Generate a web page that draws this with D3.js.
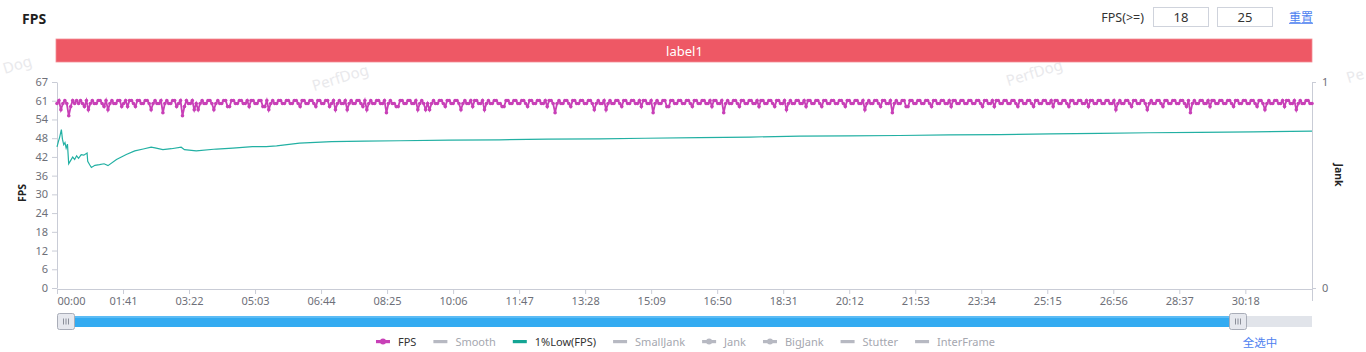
<!DOCTYPE html>
<html>
<head>
<meta charset="utf-8">
<script src="https://cdn.jsdelivr.net/npm/d3@7"></script>
<style>
  body { margin: 0; background: #fff; font-family: "Noto Sans", "Noto Sans CJK SC", sans-serif; }
  svg { display: block; }
</style>
</head>
<body>
<div id="container"></div>
<script>
/* DATA */
// FPS, one sample every 3 seconds from 00:00 (one row = 2 minutes)
const fpsStep = 3;
const fpsValues = [
  60,61,58,60,61,60,56,59,61,60,61,60,61,60,59,61,58,60,61,60,60,61,61,60,59,61,58,60,61,60,60,61,61,59,60,61,59,61,61,60,
  59,61,61,60,60,61,61,60,58,60,61,60,60,61,57,60,61,60,60,61,61,59,60,61,56,59,61,60,60,61,58,60,58,60,61,60,60,61,61,60,
  58,60,61,60,60,61,61,59,59,61,61,60,60,61,61,60,60,61,59,61,61,60,60,61,61,59,59,61,58,60,61,60,60,61,61,60,60,61,61,60,
  60,61,61,60,59,61,61,60,60,61,61,60,59,61,61,60,60,61,61,59,60,61,58,60,61,60,60,61,58,60,61,60,60,61,61,60,59,61,58,60,
  61,60,60,61,61,60,60,61,57,60,61,60,60,59,59,61,61,60,60,61,61,60,60,61,58,60,61,60,58,60,58,60,61,60,60,61,61,60,59,61,
  61,60,60,61,61,60,58,60,61,60,60,61,59,61,61,60,60,61,58,60,61,60,60,61,61,60,60,59,59,61,61,60,60,61,61,60,60,61,61,60,
  59,61,61,60,60,61,61,60,60,61,59,61,61,60,57,60,61,60,60,61,61,60,59,61,61,60,60,61,61,60,60,61,61,60,58,60,61,60,60,61,
  58,60,61,60,60,61,61,60,59,61,61,60,60,61,61,60,60,61,59,61,61,60,60,61,57,60,61,60,60,61,61,59,59,61,61,60,60,61,61,60,
  60,61,61,60,59,61,61,60,60,61,61,60,60,61,59,61,61,60,60,61,57,60,61,60,60,61,61,60,59,61,61,60,60,61,61,60,60,61,59,61,
  61,60,60,61,61,60,59,61,61,60,60,61,58,60,61,60,60,61,61,60,60,61,59,61,61,60,60,61,61,60,59,61,61,60,60,61,61,60,60,61,
  61,60,59,61,61,60,60,61,61,60,60,61,58,60,61,60,60,61,61,60,59,61,61,60,60,61,57,60,61,60,60,61,61,59,59,61,61,60,60,61,
  61,60,60,61,61,60,59,61,61,60,60,61,61,60,60,61,59,61,61,60,60,61,61,60,60,61,61,60,60,61,61,60,59,61,61,60,60,61,59,61,
  61,60,60,61,61,60,60,61,61,60,59,61,61,60,60,61,61,60,59,61,61,60,60,61,61,60,60,61,59,61,61,60,60,61,61,60,59,61,61,60,
  60,61,61,60,60,61,59,61,61,60,60,61,61,60,60,61,61,60,60,61,58,60,61,60,60,61,61,60,59,61,61,60,60,61,61,60,58,60,61,60,
  60,61,61,60,59,61,61,60,60,61,61,60,60,61,61,60,59,61,57,60,61,60,60,61,61,60,60,61,59,61,61,60,60,61,61,60,60,61,61,60,
  59,61,61,60,60,61,61,60,60,61,61,60,59,61,61,60,58,60,61,60,60,61,61,60,60,61,59,61,61,60,60,61,58,60,61,60,60,61,61,60,
  60
];

// 1%Low(FPS): time in seconds, value
const lowTimes = [
  0, 2, 4, 6.7, 8.3, 10.3, 12.2, 14, 16, 17.9, 21, 24, 27, 30, 33, 37, 41, 46, 47, 50,
  52.6, 58, 65, 72, 78, 91, 106, 119, 132, 144, 150, 162, 175, 190, 195, 213, 244, 269, 299, 320,
  336, 371, 420, 470, 524, 600, 677, 750, 830, 900, 983, 1060, 1136, 1210, 1289, 1365, 1442, 1520, 1595, 1670,
  1748, 1830, 1920
];
const lowValues = [
  45.9, 47.5, 49, 51.5, 48.4, 46.6, 47.3, 45.5, 46.8, 40.4, 41.5, 42.6, 41.8, 43, 42.2, 43.4, 43.2, 43.9, 41.2, 40.1,
  39.2, 39.9, 40.1, 40.4, 39.8, 41.8, 43.4, 44.6, 45.2, 45.8, 45.6, 45, 45.3, 45.8, 45, 44.6, 45.2, 45.5, 46, 46,
  46.2, 47.1, 47.6, 47.8, 47.9, 48.1, 48.2, 48.4, 48.5, 48.7, 48.9, 49.1, 49.4, 49.5, 49.6, 49.8, 49.9, 50.1, 50.3, 50.5,
  50.6, 50.8, 51
];

const yTickLabels = ["0","6","12","18","24","30","36","42","48","54","61","67"];
const xTickLabels = ["00:00","01:41","03:22","05:03","06:44","08:25","10:06","11:47","13:28","15:09",
  "16:50","18:31","20:12","21:53","23:34","25:15","26:56","28:37","30:18"];
const jankTickLabels = ["0","1"];
const legendNames = ["FPS","Smooth","1%Low(FPS)","SmallJank","Jank","BigJank","Stutter","InterFrame"];
const legendActive = ["FPS","1%Low(FPS)"];
const legendWithDot = ["FPS","Jank","BigJank"];
const thresholds = ["18","25"];

/* CONSTANTS */
const width = 1366, height = 352;
const plot = { left: 57, right: 1312, top: 82, bottom: 288 };
const fpsColor = "#c840b7", lowColor = "#22b0a3", axisColor = "#c9ccd6", labelColor = "#6e7079";
const linkColor = "#4d7ff0", inactive = "#b7b9c2";

const toSec = s => { const [m, ss] = s.split(":").map(Number); return m * 60 + ss; };

/* SCALES */
const xScale = d3.scaleLinear().domain([0, 1920]).range([plot.left, plot.right]);
const yScale = d3.scaleLinear().domain([0, 67]).range([plot.bottom, plot.top]);
const jankScale = d3.scaleLinear().domain([0, 1]).range([plot.bottom, plot.top]);

const svg = d3.select("#container").append("svg")
  .attr("width", width).attr("height", height);

// watermarks (the ones at the edges only show part of the word)
[[17, 64, "Dog"], [340, 77, "PerfDog"], [1034, 72, "PerfDog"], [1355, 75, "Pe"]].forEach(([wx, wy, w]) => {
  svg.append("text")
    .attr("transform", `translate(${wx},${wy}) rotate(-17)`)
    .attr("text-anchor", "middle").attr("dominant-baseline", "central")
    .attr("font-size", 15).attr("fill", "#e9e9ec")
    .text(w);
});

// title
svg.append("text").attr("x", 22).attr("y", 18).attr("dominant-baseline", "central")
  .attr("font-size", 14).attr("font-weight", "bold").attr("fill", "#1f1f1f").text("FPS");

// threshold inputs
svg.append("text").attr("x", 1144).attr("y", 17).attr("text-anchor", "end")
  .attr("dominant-baseline", "central").attr("font-size", 12.5).attr("fill", "#333").text("FPS(>=)");
thresholds.forEach((t, i) => {
  const bx = 1153 + i * 64;
  svg.append("rect").attr("x", bx + 0.5).attr("y", 7.5).attr("width", 55).attr("height", 19)
    .attr("fill", "#fff").attr("stroke", "#cfd3dc");
  svg.append("text").attr("x", bx + 28).attr("y", 17).attr("text-anchor", "middle")
    .attr("dominant-baseline", "central").attr("font-size", 13).attr("fill", "#333").text(t);
});
svg.append("text").attr("x", 1301).attr("y", 16.5).attr("text-anchor", "middle")
  .attr("dominant-baseline", "central").attr("font-size", 12).attr("fill", linkColor)
  .attr("font-family", "Noto Sans CJK SC").text("重置");
svg.append("line").attr("x1", 1289).attr("x2", 1313).attr("y1", 23.5).attr("y2", 23.5)
  .attr("stroke", linkColor).attr("stroke-width", 0.8);

// label bar
svg.append("rect").attr("x", plot.left - 1).attr("y", 39).attr("width", plot.right - plot.left + 1)
  .attr("height", 23).attr("fill", "#ee5865").attr("stroke", "#f38f97").attr("stroke-width", 0.8);
svg.append("text").attr("x", (plot.left + plot.right) / 2).attr("y", 50.5).attr("text-anchor", "middle")
  .attr("dominant-baseline", "central").attr("font-size", 13).attr("fill", "#fff").text("label1");

/* AXES */
const yAxis = d3.axisLeft(yScale)
  .tickValues(yTickLabels.map((d, i) => i * 67 / (yTickLabels.length - 1)))
  .tickFormat((d, i) => yTickLabels[i])
  .tickSize(5).tickSizeOuter(0).tickPadding(4);
const gy = svg.append("g").attr("transform", `translate(${plot.left},0)`).call(yAxis);

const xAxis = d3.axisBottom(xScale)
  .tickValues(xTickLabels.map(toSec))
  .tickFormat((d, i) => xTickLabels[i])
  .tickSize(5).tickSizeOuter(0).tickPadding(3);
const gx = svg.append("g").attr("transform", `translate(0,${plot.bottom + 1})`).call(xAxis);
gx.select(".tick text").attr("text-anchor", "start");

const jAxis = d3.axisRight(jankScale)
  .tickValues(jankTickLabels.map(Number))
  .tickFormat((d, i) => jankTickLabels[i])
  .tickSize(4).tickSizeOuter(0).tickPadding(6);
const gj = svg.append("g").attr("transform", `translate(${plot.right},0)`).call(jAxis);
svg.append("line").attr("x1", plot.right + 0.5).attr("x2", plot.right + 0.5)
  .attr("y1", plot.bottom).attr("y2", plot.bottom + 13).attr("stroke", axisColor);

[gx, gy, gj].forEach(g => {
  g.selectAll("path, line").attr("stroke", axisColor);
  g.selectAll("text").attr("fill", labelColor).attr("font-size", 11)
    .attr("font-family", "Noto Sans, sans-serif");
});

// axis names
svg.append("text").attr("transform", "translate(22,193) rotate(-90)").attr("text-anchor", "middle")
  .attr("dominant-baseline", "central").attr("font-size", 10.5).attr("font-weight", "bold")
  .attr("fill", "#222").text("FPS");
svg.append("text").attr("transform", "translate(1339,175) rotate(90)").attr("text-anchor", "middle")
  .attr("dominant-baseline", "central").attr("font-size", 10.5).attr("font-weight", "bold")
  .attr("fill", "#222").text("Jank");

/* SERIES */
const fpsData = fpsValues.map((v, i) => ({ t: i * fpsStep, v }));
const lowData = lowTimes.map((t, i) => ({ t, v: lowValues[i] }));

const line = d3.line().x(d => xScale(d.t)).y(d => yScale(d.v));

svg.append("path").datum(lowData).attr("d", line)
  .attr("fill", "none").attr("stroke", lowColor).attr("stroke-width", 1.2);

svg.append("path").datum(fpsData).attr("d", line)
  .attr("fill", "none").attr("stroke", fpsColor).attr("stroke-width", 1.8);
svg.selectAll(".fpsdot").data(fpsData).join("circle")
  .attr("class", "fpsdot")
  .attr("cx", d => xScale(d.t)).attr("cy", d => yScale(d.v)).attr("r", 1.8)
  .attr("fill", fpsColor);

/* SLIDER */
const sy = 316;
svg.append("rect").attr("x", plot.left).attr("y", sy).attr("width", plot.right - plot.left)
  .attr("height", 11).attr("fill", "#e1e4ea");
svg.append("rect").attr("x", 66).attr("y", sy).attr("width", 1238 - 66)
  .attr("height", 11).attr("fill", "#33abf1");
svg.append("rect").attr("x", 66).attr("y", sy).attr("width", 1238 - 66)
  .attr("height", 2).attr("fill", "#5cbcf5");
[57, 1229].forEach(hx => {
  svg.append("rect").attr("x", hx + 0.5).attr("y", 313.5).attr("width", 17).attr("height", 16)
    .attr("rx", 2).attr("fill", "#e6e8ee").attr("stroke", "#a9adb8");
  [-2.5, 0, 2.5].forEach(o => {
    svg.append("line").attr("x1", hx + 9 + o).attr("x2", hx + 9 + o).attr("y1", 318.5).attr("y2", 324.5)
      .attr("stroke", "#80848f").attr("stroke-width", 0.9);
  });
});

/* LEGEND */
const legendColors = { "FPS": fpsColor, "1%Low(FPS)": "#14a594" };
const lg = svg.append("g");
let lx = 0;
legendNames.forEach(name => {
  const on = legendActive.includes(name);
  const c = on ? legendColors[name] : inactive;
  const item = lg.append("g").attr("transform", `translate(${lx},0)`);
  item.append("rect").attr("x", 0).attr("y", -1.5).attr("width", 14).attr("height", 3.2).attr("fill", c);
  if (legendWithDot.includes(name)) {
    item.append("circle").attr("cx", 7).attr("cy", 0).attr("r", 3).attr("fill", c);
  }
  const tx = item.append("text").attr("x", 22).attr("y", 0).attr("dominant-baseline", "central")
    .attr("font-size", 11).attr("fill", on ? "#333" : "#a5a7af").text(name);
  lx += 22 + tx.node().getComputedTextLength() + 17;
});
lx -= 17;
lg.attr("transform", `translate(${(plot.left + plot.right) / 2 - lx / 2 + 1},341.5)`);

svg.append("text").attr("x", 1260).attr("y", 342).attr("text-anchor", "middle")
  .attr("dominant-baseline", "central").attr("font-size", 11.5).attr("fill", linkColor)
  .attr("font-family", "Noto Sans CJK SC").text("全选中");
</script>
</body>
</html>
